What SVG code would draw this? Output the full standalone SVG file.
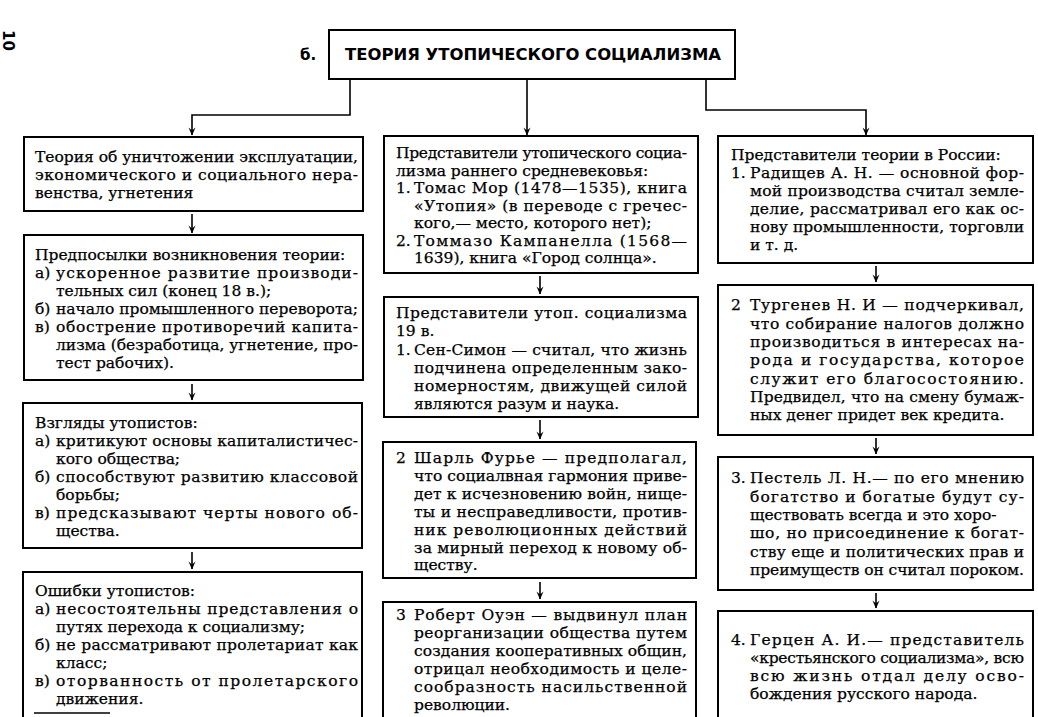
<svg xmlns="http://www.w3.org/2000/svg" width="1038" height="717" viewBox="0 0 1038 717">
<style>
.box{fill:#fff;stroke:#000;stroke-width:2}
.t{font-family:"DejaVu Serif","Liberation Serif",serif;font-size:15.5px;fill:#000;stroke:#000;stroke-width:0.25}
.h{font-family:"DejaVu Sans","Liberation Sans",sans-serif;font-size:15px;font-weight:bold;fill:#000}
.c{fill:none;stroke:#000;stroke-width:1.6}
</style>
<defs>
<marker id="ar" markerWidth="10" markerHeight="8" refX="9" refY="4" orient="auto" markerUnits="userSpaceOnUse" viewBox="0 0 10 8">
<path d="M1.5,0.5 L9.5,4 L1.5,7.5 L4.5,4 Z" fill="#000"/>
</marker>
</defs>
<rect width="1038" height="717" fill="#fff"/>
<text class="h" transform="translate(3,30) rotate(90)">10</text>
<g id="title">
<text class="h" x="300" y="60">б.</text>
<rect class="box" x="329" y="30" width="406" height="49"/>
<text class="h" x="345" y="60" textLength="376" lengthAdjust="spacingAndGlyphs">ТЕОРИЯ УТОПИЧЕСКОГО СОЦИАЛИЗМА</text>
</g>
<g id="connectors">
<polyline class="c" points="350,79 350,115 192,115 192,135" marker-end="url(#ar)"/>
<polyline class="c" points="527,79 527,135" marker-end="url(#ar)"/>
<polyline class="c" points="706,79 706,110 866,110 866,135" marker-end="url(#ar)"/>
<line class="c" x1="192" y1="214" x2="192" y2="233" marker-end="url(#ar)"/>
<line class="c" x1="192" y1="384" x2="192" y2="400" marker-end="url(#ar)"/>
<line class="c" x1="192" y1="552" x2="192" y2="569" marker-end="url(#ar)"/>
<line class="c" x1="540" y1="276" x2="540" y2="294" marker-end="url(#ar)"/>
<line class="c" x1="540" y1="420" x2="540" y2="439" marker-end="url(#ar)"/>
<line class="c" x1="540" y1="582" x2="540" y2="599" marker-end="url(#ar)"/>
<line class="c" x1="876" y1="266" x2="876" y2="282" marker-end="url(#ar)"/>
<line class="c" x1="876" y1="438" x2="876" y2="454" marker-end="url(#ar)"/>
<line class="c" x1="876" y1="593" x2="876" y2="608" marker-end="url(#ar)"/>
</g>
<g id="L1">
<rect class="box" x="24" y="137" width="339" height="74"/>
<text class="t" x="35" y="162" textLength="323" lengthAdjust="spacing">Теория об уничтожении эксплуатации,</text>
<text class="t" x="35" y="180" textLength="323" lengthAdjust="spacing">экономического и социального нера-</text>
<text class="t" x="35" y="198">венства, угнетения</text>
</g>
<g id="L2">
<rect class="box" x="24" y="235" width="339" height="145"/>
<text class="t" x="35" y="260">Предпосылки возникновения теории:</text>
<text class="t" x="35" y="278">а)</text><text class="t" x="56" y="278" textLength="302" lengthAdjust="spacing">ускоренное развитие производи-</text>
<text class="t" x="56" y="296">тельных сил (конец 18 в.);</text>
<text class="t" x="35" y="314">б)</text><text class="t" x="56" y="314" textLength="302" lengthAdjust="spacing">начало промышленного переворота;</text>
<text class="t" x="35" y="332">в)</text><text class="t" x="56" y="332" textLength="302" lengthAdjust="spacing">обострение противоречий капита-</text>
<text class="t" x="56" y="350" textLength="302" lengthAdjust="spacing">лизма (безработица, угнетение, про-</text>
<text class="t" x="56" y="368">тест рабочих).</text>
</g>
<g id="L3">
<rect class="box" x="23" y="403" width="339" height="145"/>
<text class="t" x="35" y="428">Взгляды утопистов:</text>
<text class="t" x="35" y="446">а)</text><text class="t" x="56" y="446" textLength="302" lengthAdjust="spacing">критикуют основы капиталистичес-</text>
<text class="t" x="56" y="464">кого общества;</text>
<text class="t" x="35" y="482">б)</text><text class="t" x="56" y="482" textLength="302" lengthAdjust="spacing">способствуют развитию классовой</text>
<text class="t" x="56" y="500">борьбы;</text>
<text class="t" x="35" y="518">в)</text><text class="t" x="56" y="518" textLength="302" lengthAdjust="spacing">предсказывают черты нового об-</text>
<text class="t" x="56" y="536">щества.</text>
</g>
<g id="L4">
<rect class="box" x="23" y="572" width="339" height="160"/>
<text class="t" x="35" y="596">Ошибки утопистов:</text>
<text class="t" x="35" y="614">а)</text><text class="t" x="56" y="614" textLength="302" lengthAdjust="spacing">несостоятельны представления о</text>
<text class="t" x="56" y="632">путях перехода к социализму;</text>
<text class="t" x="35" y="650">б)</text><text class="t" x="56" y="650" textLength="302" lengthAdjust="spacing">не рассматривают пролетариат как</text>
<text class="t" x="56" y="668">класс;</text>
<text class="t" x="35" y="686">в)</text><text class="t" x="56" y="686" textLength="302" lengthAdjust="spacing">оторванность от пролетарского</text>
<text class="t" x="56" y="704">движения.</text>
<line x1="34" y1="713" x2="110" y2="713" stroke="#000" stroke-width="1.5"/>
</g>
<g id="M1">
<rect class="box" x="384" y="136" width="314" height="137"/>
<text class="t" x="396" y="158" textLength="291" lengthAdjust="spacing">Представители утопического социа-</text>
<text class="t" x="396" y="176">лизма раннего средневековья:</text>
<text class="t" x="396" y="193">1.</text><text class="t" x="414" y="193" textLength="273" lengthAdjust="spacing">Томас Мор (1478—1535), книга</text>
<text class="t" x="414" y="211" textLength="273" lengthAdjust="spacing">«Утопия» (в переводе с гречес-</text>
<text class="t" x="414" y="228">кого,— место, которого нет);</text>
<text class="t" x="396" y="246">2.</text><text class="t" x="414" y="246" textLength="273" lengthAdjust="spacing">Томмазо Кампанелла (1568—</text>
<text class="t" x="414" y="263">1639), книга «Город солнца».</text>
</g>
<g id="M2">
<rect class="box" x="384" y="297" width="314" height="120"/>
<text class="t" x="396" y="318" textLength="291" lengthAdjust="spacing">Представители утоп. социализма</text>
<text class="t" x="396" y="336">19 в.</text>
<text class="t" x="396" y="355">1.</text><text class="t" x="414" y="355" textLength="273" lengthAdjust="spacing">Сен-Симон — считал, что жизнь</text>
<text class="t" x="414" y="373" textLength="273" lengthAdjust="spacing">подчинена определенным зако-</text>
<text class="t" x="414" y="391" textLength="273" lengthAdjust="spacing">номерностям, движущей силой</text>
<text class="t" x="414" y="409">являются разум и наука.</text>
</g>
<g id="M3">
<rect class="box" x="383" y="442" width="313" height="136"/>
<text class="t" x="396" y="463">2</text><text class="t" x="414" y="463" textLength="273" lengthAdjust="spacing">Шарль Фурье — предполагал,</text>
<text class="t" x="414" y="481" textLength="273" lengthAdjust="spacing">что социалвная гармония приве-</text>
<text class="t" x="414" y="499" textLength="273" lengthAdjust="spacing">дет к исчезновению войн, нище-</text>
<text class="t" x="414" y="517" textLength="273" lengthAdjust="spacing">ты и несправедливости, против-</text>
<text class="t" x="414" y="535" textLength="273" lengthAdjust="spacing">ник революционных действий</text>
<text class="t" x="414" y="553" textLength="273" lengthAdjust="spacing">за мирный переход к новому об-</text>
<text class="t" x="414" y="570">ществу.</text>
</g>
<g id="M4">
<rect class="box" x="383" y="602" width="313" height="130"/>
<text class="t" x="396" y="620">3</text><text class="t" x="414" y="620" textLength="273" lengthAdjust="spacing">Роберт Оуэн — выдвинул план</text>
<text class="t" x="414" y="638" textLength="273" lengthAdjust="spacing">реорганизации общества путем</text>
<text class="t" x="414" y="656" textLength="273" lengthAdjust="spacing">создания кооперативных общин,</text>
<text class="t" x="414" y="674" textLength="273" lengthAdjust="spacing">отрицал необходимость и целе-</text>
<text class="t" x="414" y="692" textLength="273" lengthAdjust="spacing">сообразность насильственной</text>
<text class="t" x="414" y="710">революции.</text>
</g>
<g id="R1">
<rect class="box" x="718" y="136" width="315" height="127"/>
<text class="t" x="731" y="160">Представители теории в России:</text>
<text class="t" x="731" y="178">1.</text><text class="t" x="750" y="178" textLength="274" lengthAdjust="spacing">Радищев А. Н. — основной фор-</text>
<text class="t" x="750" y="196" textLength="274" lengthAdjust="spacing">мой производства считал земле-</text>
<text class="t" x="750" y="214" textLength="274" lengthAdjust="spacing">делие, рассматривал его как ос-</text>
<text class="t" x="750" y="232" textLength="274" lengthAdjust="spacing">нову промышленности, торговли</text>
<text class="t" x="750" y="250">и т. д.</text>
</g>
<g id="R2">
<rect class="box" x="718" y="285" width="315" height="150"/>
<text class="t" x="731" y="310">2</text><text class="t" x="750" y="310" textLength="274" lengthAdjust="spacing">Тургенев Н. И — подчеркивал,</text>
<text class="t" x="750" y="329" textLength="274" lengthAdjust="spacing">что собирание налогов должно</text>
<text class="t" x="750" y="347" textLength="274" lengthAdjust="spacing">производиться в интересах на-</text>
<text class="t" x="750" y="365" textLength="274" lengthAdjust="spacing">рода и государства, которое</text>
<text class="t" x="750" y="384" textLength="274" lengthAdjust="spacing">служит его благосостоянию.</text>
<text class="t" x="750" y="402" textLength="274" lengthAdjust="spacing">Предвидел, что на смену бумаж-</text>
<text class="t" x="750" y="420">ных денег придет век кредита.</text>
</g>
<g id="R3">
<rect class="box" x="718" y="457" width="315" height="133"/>
<text class="t" x="731" y="483">3.</text><text class="t" x="750" y="483" textLength="274" lengthAdjust="spacing">Пестель Л. Н.— по его мнению</text>
<text class="t" x="750" y="502" textLength="274" lengthAdjust="spacing">богатство и богатые будут су-</text>
<text class="t" x="750" y="520">ществовать всегда и это хоро-</text>
<text class="t" x="750" y="538" textLength="274" lengthAdjust="spacing">шо, но присоединение к богат-</text>
<text class="t" x="750" y="557" textLength="274" lengthAdjust="spacing">ству еще и политических прав и</text>
<text class="t" x="750" y="575" textLength="274" lengthAdjust="spacing">преимуществ он считал пороком.</text>
</g>
<g id="R4">
<rect class="box" x="718" y="611" width="315" height="120"/>
<text class="t" x="731" y="645">4.</text><text class="t" x="750" y="645" textLength="274" lengthAdjust="spacing">Герцен А. И.— представитель</text>
<text class="t" x="750" y="663" textLength="274" lengthAdjust="spacing">«крестьянского социализма», всю</text>
<text class="t" x="750" y="681" textLength="274" lengthAdjust="spacing">всю жизнь отдал делу осво-</text>
<text class="t" x="750" y="699">бождения русского народа.</text>
</g>
</svg>
